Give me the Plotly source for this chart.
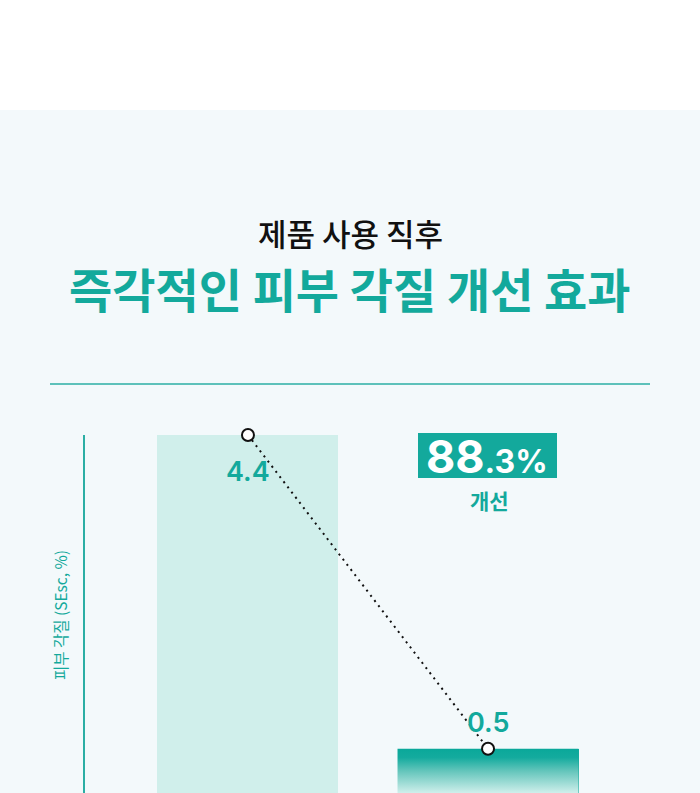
import plotly.graph_objects as go

# ---- data ----
categories = ["사용 전", "사용 직후"]
values = [4.4, 0.5]
value_labels = ["4.4", "0.5"]
improvement = "88.3%"
subtitle = "제품 사용 직후"
title = "즉각적인 피부 각질 개선 효과"
y_title = "피부 각질 (SEsc, %)"
improve_word = "개선"

TEAL = "#13A99C"
MINT = "#D0EFEB"
BG = "#F3F9FB"
KR = "Noto Sans CJK KR"
NUM = "Inter, Noto Sans CJK KR"

W, H = 700, 793
L, R, T, B = 85, 49, 435, 0
PW, PH = W - L - R, H - T - B
Y_MIN = -0.05

def px(x):
    return (x - L) / PW

def py(y):
    return (H - B - y) / PH

xs = list(range(len(categories)))
bar_w = 0.754

fig = go.Figure()
fig.add_trace(go.Bar(x=xs, y=[v - Y_MIN for v in values], base=Y_MIN, width=bar_w,
                     marker=dict(color=[MINT, TEAL], line=dict(width=0)),
                     showlegend=False, hoverinfo="skip"))
# gradient overlay for second bar (derived from data)
i2 = 1
gx = [xs[i2] - bar_w / 2, xs[i2] + bar_w / 2, xs[i2] + bar_w / 2, xs[i2] - bar_w / 2, xs[i2] - bar_w / 2]
gy = [Y_MIN, Y_MIN, values[i2], values[i2], Y_MIN]
fig.add_trace(go.Scatter(x=gx, y=gy, mode="lines", fill="toself", line=dict(width=0),
                         fillgradient=dict(type="vertical",
                                           colorscale=[[0, "#CFEFEB"], [0.5, "#63C5BB"], [0.8, "#14AB9E"], [1, "#0AA89A"]],
                                           start=Y_MIN, stop=values[i2]),
                         showlegend=False, hoverinfo="skip"))
# dotted connector with markers
fig.add_trace(go.Scatter(x=xs, y=values, mode="lines+markers", cliponaxis=False,
                         line=dict(color="#111111", width=2, dash="2px,4.5px"),
                         marker=dict(size=12, color="white", line=dict(color="#111111", width=2)),
                         showlegend=False, hoverinfo="skip"))

shapes = [
    dict(type="rect", xref="paper", yref="paper", x0=px(-10), x1=px(710), y0=py(110), y1=py(800),
         fillcolor=BG, line=dict(width=0), layer="below"),
    dict(type="line", xref="paper", yref="paper", x0=px(50), x1=px(650), y0=py(384), y1=py(384),
         line=dict(color="#2BAEA4", width=1.5)),
    dict(type="rect", xref="paper", yref="paper", x0=px(418), x1=px(557), y0=py(433), y1=py(478),
         fillcolor=TEAL, line=dict(width=0)),
]

label_shift = [-36, 26]
annotations = [
    dict(text=lab, x=xv, y=yv, xref="x", yref="y", yshift=sh, showarrow=False,
         font=dict(family=NUM, size=27, color=TEAL, weight=600), xanchor="center", yanchor="middle")
    for lab, xv, yv, sh in zip(value_labels, xs, values, label_shift)
] + [
    dict(text=subtitle, x=px(350), y=py(232), xref="paper", yref="paper", showarrow=False,
         font=dict(family=KR, size=31, color="#111111", weight=500), xanchor="center", yanchor="middle"),
    dict(text="<b>" + title + "</b>", x=px(350), y=py(287), xref="paper", yref="paper", showarrow=False,
         font=dict(family=KR, size=47, color=TEAL), xanchor="center", yanchor="middle"),
    dict(text="<b>" + improvement[:2] + "</b><span style='font-size:32px'><b>" + improvement[2:] + "</b></span>",
         x=px(487), y=py(456), xref="paper", yref="paper", showarrow=False,
         font=dict(family=NUM, size=45, color="white"), xanchor="center", yanchor="middle"),
    dict(text="<b>" + improve_word + "</b>", x=px(489), y=py(500), xref="paper", yref="paper", showarrow=False,
         font=dict(family=KR, size=21, color=TEAL), xanchor="center", yanchor="middle"),
    dict(text=y_title, x=px(60), y=py(615), xref="paper", yref="paper", showarrow=False, textangle=-90,
         font=dict(family=KR, size=15.5, color=TEAL), xanchor="center", yanchor="middle"),
]

fig.update_layout(
    width=W, height=H,
    margin=dict(l=L, r=R, t=T, b=B, pad=0, autoexpand=False),
    paper_bgcolor="white", plot_bgcolor=BG,
    shapes=shapes, annotations=annotations,
    bargap=0,
    xaxis=dict(range=[-0.679, 1.679], showgrid=False, zeroline=False, showticklabels=False, showline=False,
               fixedrange=True),
    yaxis=dict(range=[Y_MIN, 4.4], showgrid=False, zeroline=False, showticklabels=False, ticks="",
               showline=True, linecolor="#2BAEA4", linewidth=1.5, fixedrange=True),
)

fig.write_html("out.html", config={"displayModeBar": False},
               post_script="document.body.style.margin='0';document.body.style.overflow='hidden';")
